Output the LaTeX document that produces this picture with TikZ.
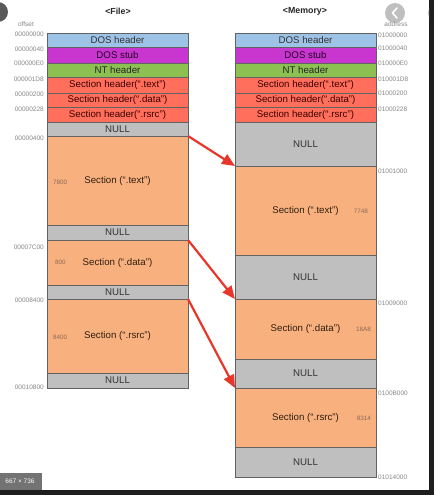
\documentclass[tikz,border=0pt]{standalone}
\usepackage{fontspec}
\setmainfont{Liberation Sans}
\usetikzlibrary{arrows.meta,calc}
\definecolor{edge}{HTML}{626262}
\definecolor{cdosh}{HTML}{9DC3E6}
\definecolor{cdoss}{HTML}{C936CF}
\definecolor{cnt}{HTML}{8CC152}
\definecolor{csh}{HTML}{FF6F5B}
\definecolor{csec}{HTML}{F8B07F}
\definecolor{cnull}{HTML}{BFBFBF}
\definecolor{cred}{HTML}{E8362A}
\definecolor{cgraytxt}{HTML}{888888}
\definecolor{csztxt}{HTML}{8A6A55}
\definecolor{cdark}{HTML}{1E1E1E}
\begin{document}
\begin{tikzpicture}[x=1pt,y=-1pt,
  blk/.style={draw=edge, line width=0.8pt, minimum width=141pt, inner sep=0pt, outer sep=0pt,
    anchor=north west, font=\fontsize{9.7}{10}\selectfont, text=black!80},
  hdr/.style={blk, fill=csh, text={black!60!red!60!black}},
  sec/.style={blk, fill=csec, text={black!75!brown}},
  nul/.style={blk, fill=cnull, text=black!80},
  off/.style={font=\fontsize{6.5}{7}\selectfont, text=cgraytxt, inner sep=0pt},
  sz/.style={font=\fontsize{6.3}{7}\selectfont, text=csztxt, inner sep=0pt},
  ttl/.style={font=\bfseries\fontsize{8.8}{9}\selectfont, text=black!85, inner sep=0pt},
  mapar/.style={draw=cred, line width=2.2pt, -{Triangle[length=13pt,width=11pt]}}
]
\useasboundingbox (0,0) rectangle (434,495);
\fill[white] (0,0) rectangle (434,495);

% screenshot chrome
\fill[cdark] (429,0) rectangle (434,495);
\fill[cdark] (0,490) rectangle (434,495);
\fill[black!65] (-2,12) circle (10);
\fill[black!25] (395,13) circle (10);
\draw[white, line width=1.6pt, line cap=round, line join=round] (397,8) -- (392.5,13) -- (397,18);
\begin{scope}
\clip (0,0) rectangle (429,490);
\fill[black!25] (438,13) circle (10);
\end{scope}
\fill[black!55] (0,473) rectangle (42,490);
\node[font=\fontsize{6.5}{7}\selectfont, text=white, inner sep=0pt] (badge) at (20,481.5) {667 × 736};

% titles
\node[ttl] (tfile) at (118,11) {<File>};
\node[ttl] (tmem) at (305,11) {<Memory>};
\node[off] (toff) at (26,24) {offset};
\node[off] (taddr) at (396,24) {address};

% File column
\node[blk, fill=cdosh, minimum height=14pt] (fdh) at (47,33) {DOS header};
\node[blk, fill=cdoss, minimum height=16pt, text={black!70!violet}] (fds) at (47,47) {DOS stub};
\node[blk, fill=cnt, minimum height=14pt, text=black!85] (fnt) at (47,63) {NT header};
\node[hdr, minimum height=16pt] (fst) at (47,77) {Section header(``.text'')};
\node[hdr, minimum height=14pt] (fsd) at (47,93) {Section header(``.data'')};
\node[hdr, minimum height=15pt] (fsr) at (47,107) {Section header(``.rsrc'')};
\node[nul, minimum height=14pt] (fn0) at (47,122) {NULL};
\node[sec, minimum height=89pt] (ftx) at (47,136) {Section (``.text'')};
\node[nul, minimum height=15pt] (fn1) at (47,225) {NULL};
\node[sec, minimum height=45pt] (fda) at (47,240) {Section (``.data'')};
\node[nul, minimum height=14pt] (fn2) at (47,285) {NULL};
\node[sec, minimum height=74pt] (frs) at (47,299) {Section (``.rsrc'')};
\node[nul, minimum height=15pt] (fn3) at (47,373) {NULL};

% Memory column
\node[blk, fill=cdosh, minimum height=14pt] (mdh) at (235,33) {DOS header};
\node[blk, fill=cdoss, minimum height=16pt, text={black!70!violet}] (mds) at (235,47) {DOS stub};
\node[blk, fill=cnt, minimum height=14pt, text=black!85] (mnt) at (235,63) {NT header};
\node[hdr, minimum height=16pt] (mst) at (235,77) {Section header(``.text'')};
\node[hdr, minimum height=14pt] (msd) at (235,93) {Section header(``.data'')};
\node[hdr, minimum height=15pt] (msr) at (235,107) {Section header(``.rsrc'')};
\node[nul, minimum height=44pt] (mn0) at (235,122) {NULL};
\node[sec, minimum height=89pt] (mtx) at (235,166) {Section (``.text'')};
\node[nul, minimum height=44pt] (mn1) at (235,255) {NULL};
\node[sec, minimum height=60pt] (mda) at (235,299) {Section (``.data'')};
\node[nul, minimum height=29pt] (mn2) at (235,359) {NULL};
\node[sec, minimum height=59pt] (mrs) at (235,388) {Section (``.rsrc'')};
\node[nul, minimum height=30pt] (mn3) at (235,447) {NULL};

% size labels
\node[sz, anchor=west] (s1) at ($(ftx.west)+(6,1.5)$) {7800};
\node[sz, anchor=west] (s2) at ($(fda.west)+(8,0)$) {800};
\node[sz, anchor=west] (s3) at ($(frs.west)+(6,1)$) {8400};
\node[sz, anchor=east] (s4) at ($(mtx.east)+(-8,0.5)$) {7748};
\node[sz, anchor=east] (s5) at ($(mda.east)+(-5,0)$) {18A8};
\node[sz, anchor=east] (s6) at ($(mrs.east)+(-5,0.5)$) {8314};

% offsets
\node[off, anchor=east] (o1) at (44,34) {00000000};
\node[off, anchor=east] (o2) at (44,49) {00000040};
\node[off, anchor=east] (o3) at (44,63) {000000E0};
\node[off, anchor=east] (o4) at (44,79) {000001D8};
\node[off, anchor=east] (o5) at (44,94) {00000200};
\node[off, anchor=east] (o6) at (44,109) {00000228};
\node[off, anchor=east] (o7) at (44,138) {00000400};
\node[off, anchor=east] (o8) at (44,247) {00007C00};
\node[off, anchor=east] (o9) at (44,300) {00008400};
\node[off, anchor=east] (o10) at (44,387) {00010800};

% addresses
\node[off, anchor=west] (a1) at (378,35) {01000000};
\node[off, anchor=west] (a2) at (378,48) {01000040};
\node[off, anchor=west] (a3) at (378,63) {010000E0};
\node[off, anchor=west] (a4) at (378,79) {010001D8};
\node[off, anchor=west] (a5) at (378,93) {01000200};
\node[off, anchor=west] (a6) at (378,109) {01000228};
\node[off, anchor=west] (a7) at (378,171) {01001000};
\node[off, anchor=west] (a8) at (378,303) {01009000};
\node[off, anchor=west] (a9) at (378,393) {0100B000};
\node[off, anchor=west] (a10) at (378,477) {01014000};

% mapping arrows
\draw[mapar] (ftx.north east) -- (mtx.north west);
\draw[mapar] (fda.north east) -- (mda.north west);
\draw[mapar] (frs.north east) -- (mrs.north west);
\end{tikzpicture}
\end{document}
